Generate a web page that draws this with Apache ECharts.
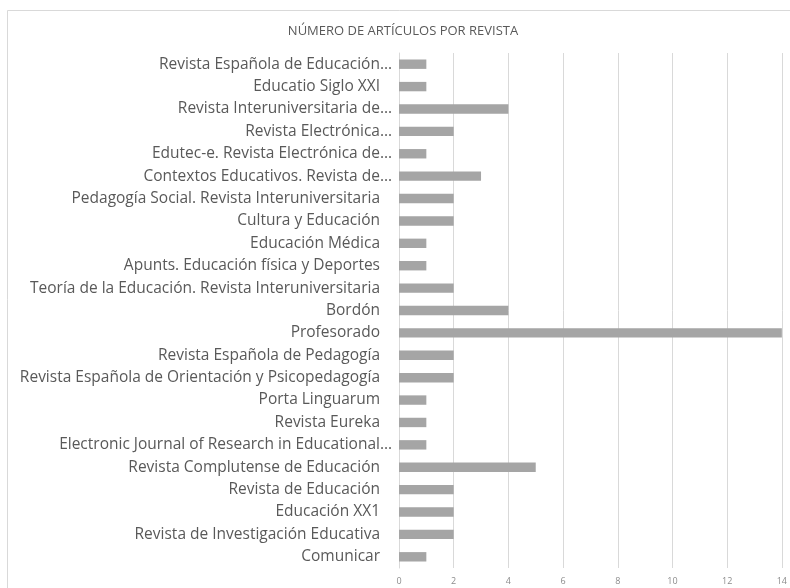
<!DOCTYPE html>
<html><head><meta charset="utf-8">
<script src="https://cdn.jsdelivr.net/npm/echarts@6/dist/echarts.min.js"></script>
<style>html,body{margin:0;padding:0;background:#fff}#c{width:790px;height:588px}</style>
</head><body><div id="c"></div>
<script>
const categories = [
  "Comunicar",
  "Revista de Investigación Educativa",
  "Educación XX1",
  "Revista de Educación",
  "Revista Complutense de Educación",
  "Electronic Journal of Research in Educational…",
  "Revista Eureka",
  "Porta Linguarum",
  "Revista Española de Orientación y Psicopedagogía",
  "Revista Española de Pedagogía",
  "Profesorado",
  "Bordón",
  "Teoría de la Educación. Revista Interuniversitaria",
  "Apunts. Educación física y Deportes",
  "Educación Médica",
  "Cultura y Educación",
  "Pedagogía Social. Revista Interuniversitaria",
  "Contextos Educativos. Revista de…",
  "Edutec-e. Revista Electrónica de…",
  "Revista Electrónica…",
  "Revista Interuniversitaria de…",
  "Educatio Siglo XXI",
  "Revista Española de Educación…"
];
const values = [1,2,2,2,5,1,1,1,2,2,14,4,2,1,1,2,2,3,1,2,4,1,1];
const xTicks = [0,2,4,6,8,10,12,14];
const title = "NÚMERO DE ARTÍCULOS POR REVISTA";

const labelFont = {fontFamily:'Open Sans',fontSize:15.5,color:'#595959'};
const chart = echarts.init(document.getElementById('c'), null, {renderer:'canvas'});
chart.setOption({
  animation:false,
  backgroundColor:'#fff',
  graphic:[{type:'rect',shape:{x:7.5,y:10.5,width:800,height:600},style:{fill:'none',stroke:'#d9d9d9',lineWidth:1},silent:true}],
  title:{text:title,left:398,top:20,textAlign:'center',textStyle:{fontFamily:'Open Sans',fontSize:13,fontWeight:'normal',color:'#595959'}},
  grid:{left:399,right:5,top:53,bottom:20,containLabel:false},
  xAxis:{type:'value',min:xTicks[0],max:xTicks[xTicks.length-1],interval:2,
    axisLine:{show:false},axisTick:{show:false},
    splitLine:{show:true,lineStyle:{color:'#d9d9d9',width:1}},
    axisLabel:{fontFamily:'Open Sans',fontSize:9,color:'#8c8c8c',margin:9}},
  yAxis:{type:'category',data:categories,
    axisLine:{show:true,lineStyle:{color:'#d9d9d9'}},axisTick:{show:false},
    axisLabel:{margin:7,interval:0,
      formatter:function(v){return v.endsWith('…')?'{e|'+v+'}':'{n|'+v+'}';},
      rich:{e:Object.assign({},labelFont),n:Object.assign({padding:[0,12,0,0]},labelFont)}}},
  series:[{type:'bar',data:values,barWidth:'42%',itemStyle:{color:'#a5a5a5'}}]
});
</script></body></html>
